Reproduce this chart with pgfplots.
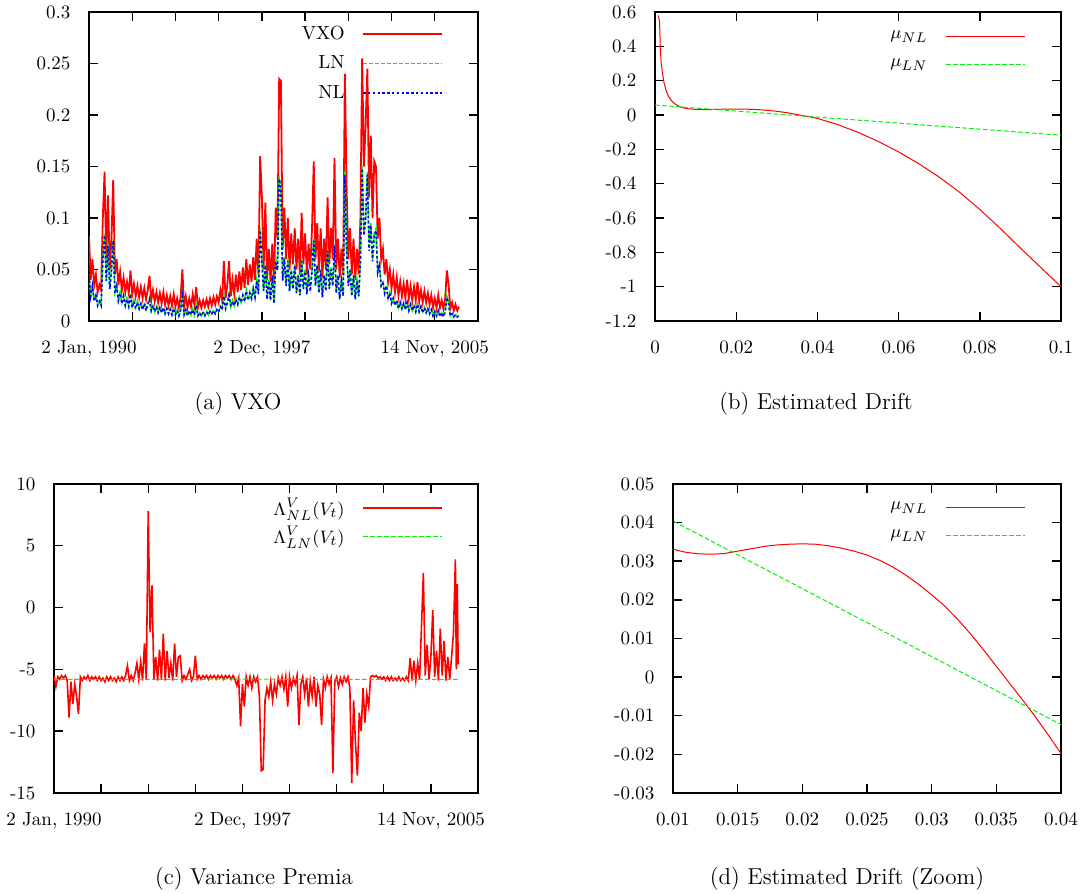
\documentclass[border=0pt]{standalone}
\usepackage{pgfplots}
\pgfplotsset{compat=1.18}
\usepackage{pgfplotstable}

\definecolor{gpred}{rgb}{1,0,0}
\definecolor{gpgreen}{rgb}{0,0.95,0}
\definecolor{gpblue}{rgb}{0,0,1}

\newcommand{\tickfont}{\fontsize{9.5}{11}\selectfont}
\newcommand{\capfont}{\fontsize{11.5}{14}\selectfont}

\pgfplotsset{
  gp/.style={
    scale only axis, anchor=south west,
    axis line style={line width=0.7pt},
    every tick/.style={black, line width=0.7pt},
    major tick length=4.5pt,
    tick align=inside,
    xtick pos=both, ytick pos=both,
    minor tick num=0,
    scaled ticks=false,
    tick label style={font=\tickfont},
    /pgf/number format/assume math mode=true,
    /pgf/number format/fixed,
    /pgf/number format/precision=3,
    xticklabel style={yshift=-6.2pt},
    yticklabel style={xshift=-5.8pt},
    legend cell align=right,
    legend plot pos=right,
    legend image code/.code={\draw[##1, line width=0.7pt] (0pt,0pt) -- (39.5pt,0pt);},
    legend style={draw=none, fill=none, at={(rel axis cs:1,1)}, anchor=north east,
      xshift=-17.5pt, inner sep=0pt, outer sep=0pt, column sep=9pt,
      font=\tickfont, nodes={inner sep=0pt}},
  },
  datex/.style={
    xmin=0, xmax=4500, xtick={0,500,...,4500},
    xticklabels={{2 Jan, 1990},{},{},{},{2 Dec, 1997},{},{},{},{14 Nov, 2005},{}},
  },
}

% daily index, VXO, LN, NL
\pgfplotstableread{
t v ln nl
0 0.082 0.045 0.044
20 0.040 0.025 0.024
40 0.060 0.035 0.034
60 0.035 0.020 0.019
80 0.045 0.025 0.025
100 0.028 0.016 0.015
120 0.035 0.020 0.019
140 0.030 0.015 0.015
160 0.100 0.060 0.058
180 0.145 0.085 0.083
200 0.060 0.040 0.039
220 0.122 0.075 0.073
240 0.050 0.032 0.031
260 0.080 0.050 0.049
280 0.137 0.080 0.078
300 0.045 0.028 0.027
320 0.060 0.035 0.034
340 0.035 0.020 0.020
360 0.048 0.028 0.027
380 0.030 0.018 0.017
400 0.042 0.025 0.024
420 0.028 0.015 0.015
440 0.038 0.022 0.021
460 0.027 0.015 0.014
480 0.049 0.027 0.026
500 0.026 0.014 0.013
520 0.036 0.020 0.019
540 0.024 0.013 0.012
560 0.034 0.019 0.018
580 0.023 0.012 0.012
600 0.033 0.018 0.017
620 0.022 0.011 0.011
640 0.032 0.017 0.017
660 0.021 0.011 0.010
680 0.030 0.016 0.016
700 0.044 0.022 0.021
720 0.020 0.010 0.010
740 0.030 0.015 0.015
760 0.019 0.009 0.009
780 0.028 0.014 0.014
800 0.018 0.009 0.008
820 0.027 0.014 0.013
840 0.017 0.008 0.008
860 0.028 0.013 0.013
880 0.016 0.008 0.007
900 0.025 0.012 0.012
920 0.015 0.007 0.007
940 0.024 0.012 0.011
960 0.015 0.007 0.006
980 0.026 0.012 0.012
1000 0.014 0.006 0.006
1020 0.022 0.011 0.010
1040 0.013 0.005 0.005
1060 0.023 0.011 0.011
1080 0.050 0.025 0.024
1100 0.014 0.006 0.006
1120 0.024 0.011 0.011
1140 0.013 0.005 0.005
1160 0.022 0.010 0.010
1180 0.014 0.006 0.006
1200 0.026 0.012 0.011
1220 0.015 0.006 0.006
1240 0.033 0.015 0.015
1260 0.013 0.005 0.005
1280 0.020 0.008 0.008
1300 0.013 0.005 0.005
1320 0.020 0.009 0.008
1340 0.014 0.006 0.005
1360 0.021 0.009 0.009
1380 0.014 0.006 0.006
1400 0.022 0.010 0.009
1420 0.015 0.007 0.007
1440 0.023 0.010 0.010
1460 0.016 0.008 0.007
1480 0.024 0.011 0.011
1500 0.018 0.009 0.009
1520 0.030 0.014 0.014
1540 0.020 0.012 0.011
1560 0.058 0.025 0.024
1580 0.022 0.013 0.012
1600 0.035 0.018 0.017
1620 0.058 0.026 0.025
1640 0.024 0.014 0.014
1660 0.040 0.020 0.019
1680 0.026 0.015 0.015
1700 0.045 0.022 0.021
1720 0.028 0.017 0.016
1740 0.048 0.023 0.023
1760 0.030 0.018 0.018
1780 0.052 0.025 0.025
1800 0.032 0.020 0.019
1820 0.060 0.030 0.029
1840 0.035 0.020 0.020
1860 0.055 0.028 0.027
1880 0.038 0.022 0.022
1900 0.062 0.032 0.031
1920 0.040 0.024 0.023
1940 0.080 0.040 0.039
1960 0.045 0.027 0.026
1980 0.160 0.090 0.088
2000 0.120 0.060 0.058
2020 0.050 0.030 0.029
2040 0.115 0.055 0.054
2060 0.040 0.022 0.021
2080 0.070 0.040 0.039
2100 0.038 0.020 0.020
2120 0.075 0.045 0.044
2140 0.035 0.018 0.017
2160 0.110 0.060 0.058
2180 0.080 0.050 0.049
2200 0.235 0.140 0.138
2220 0.233 0.130 0.128
2240 0.070 0.040 0.039
2260 0.110 0.062 0.060
2280 0.060 0.035 0.034
2300 0.100 0.060 0.058
2320 0.050 0.030 0.029
2340 0.085 0.050 0.049
2360 0.055 0.032 0.031
2380 0.090 0.055 0.054
2400 0.050 0.028 0.027
2420 0.080 0.045 0.044
2440 0.045 0.026 0.025
2460 0.105 0.060 0.058
2480 0.055 0.032 0.031
2500 0.085 0.050 0.048
2520 0.045 0.027 0.026
2540 0.075 0.045 0.044
2560 0.050 0.030 0.029
2580 0.090 0.050 0.049
2600 0.155 0.080 0.078
2620 0.060 0.035 0.034
2640 0.095 0.055 0.054
2660 0.048 0.028 0.027
2680 0.090 0.050 0.049
2700 0.042 0.024 0.023
2720 0.080 0.045 0.044
2740 0.050 0.030 0.029
2760 0.120 0.070 0.068
2780 0.055 0.032 0.031
2800 0.090 0.052 0.050
2820 0.060 0.035 0.034
2840 0.158 0.075 0.073
2860 0.050 0.028 0.027
2880 0.080 0.045 0.044
2900 0.042 0.022 0.021
2920 0.070 0.040 0.039
2940 0.045 0.025 0.024
2960 0.240 0.145 0.142
2980 0.130 0.070 0.068
3000 0.060 0.035 0.034
3020 0.090 0.050 0.049
3040 0.045 0.025 0.024
3060 0.080 0.045 0.044
3080 0.040 0.022 0.021
3100 0.070 0.040 0.039
3120 0.045 0.025 0.024
3140 0.100 0.060 0.058
3160 0.255 0.150 0.148
3180 0.150 0.085 0.083
3200 0.190 0.100 0.098
3220 0.245 0.145 0.142
3240 0.120 0.070 0.068
3260 0.180 0.095 0.093
3280 0.100 0.060 0.058
3300 0.155 0.085 0.083
3320 0.150 0.090 0.088
3340 0.080 0.048 0.047
3360 0.100 0.055 0.054
3380 0.060 0.035 0.034
3400 0.070 0.038 0.037
3420 0.045 0.028 0.027
3440 0.060 0.035 0.034
3460 0.038 0.022 0.021
3480 0.050 0.028 0.027
3500 0.032 0.018 0.017
3520 0.045 0.022 0.022
3540 0.028 0.015 0.015
3560 0.042 0.020 0.020
3580 0.025 0.013 0.012
3600 0.038 0.018 0.018
3620 0.024 0.012 0.012
3640 0.036 0.017 0.017
3660 0.022 0.011 0.011
3680 0.040 0.018 0.018
3700 0.022 0.011 0.010
3720 0.034 0.016 0.016
3740 0.020 0.010 0.010
3760 0.033 0.015 0.015
3780 0.020 0.010 0.009
3800 0.038 0.016 0.016
3820 0.019 0.009 0.009
3840 0.030 0.014 0.014
3860 0.018 0.009 0.008
3880 0.029 0.013 0.013
3900 0.018 0.008 0.008
3920 0.027 0.012 0.012
3940 0.016 0.008 0.007
3960 0.025 0.011 0.011
3980 0.013 0.005 0.005
4000 0.022 0.010 0.009
4020 0.013 0.005 0.005
4040 0.025 0.010 0.010
4060 0.013 0.005 0.004
4080 0.020 0.008 0.008
4100 0.012 0.005 0.004
4120 0.022 0.009 0.009
4140 0.049 0.024 0.023
4160 0.035 0.018 0.017
4180 0.012 0.005 0.005
4200 0.018 0.007 0.007
4220 0.010 0.004 0.004
4240 0.016 0.006 0.006
4260 0.010 0.004 0.004
4280 0.014 0.005 0.005
}\tabVXO

% variance premium, NL model
\pgfplotstableread{
t l
0 -5.5
20 -6.4
40 -5.6
60 -5.8
80 -5.5
100 -5.7
120 -5.5
140 -5.9
160 -8.9
180 -6.0
200 -7.8
220 -6.2
240 -7.2
260 -8.6
280 -5.6
300 -5.9
320 -5.6
340 -5.8
360 -5.5
380 -5.9
400 -5.6
420 -5.8
440 -5.6
460 -5.9
480 -5.6
500 -5.9
520 -5.7
540 -6.0
560 -5.6
580 -5.9
600 -5.6
620 -5.9
640 -5.7
660 -6.0
680 -5.6
700 -5.9
720 -5.6
740 -5.9
760 -5.5
780 -4.7
800 -5.9
820 -5.5
840 -5.9
860 -5.3
880 -4.5
900 -5.8
920 -4.4
940 -5.9
960 -2.9
980 -5.8
1000 7.8
1020 -2.0
1040 1.8
1060 -5.8
1080 -4.0
1100 -5.9
1120 -3.4
1140 -5.8
1160 -2.1
1180 -5.9
1200 -3.5
1220 -5.7
1240 -4.5
1260 -5.9
1280 -2.9
1300 -5.6
1320 -4.0
1340 -3.9
1360 -5.9
1380 -5.5
1400 -5.8
1420 -5.4
1440 -5.0
1460 -5.9
1480 -5.6
1500 -3.9
1520 -5.8
1540 -5.5
1560 -5.8
1580 -5.5
1600 -5.7
1620 -5.5
1640 -5.8
1660 -5.5
1680 -5.7
1700 -5.5
1720 -5.8
1740 -5.5
1760 -5.7
1780 -5.5
1800 -5.8
1820 -5.5
1840 -5.7
1860 -5.5
1880 -5.8
1900 -5.5
1920 -5.8
1940 -6.3
1960 -5.7
1980 -9.6
2000 -6.2
2020 -8.0
2040 -5.6
2060 -6.3
2080 -5.6
2100 -6.5
2120 -5.6
2140 -6.0
2160 -5.6
2180 -7.2
2200 -13.2
2220 -13.1
2240 -7.5
2260 -6.5
2280 -7.2
2300 -6.0
2320 -7.5
2340 -6.2
2360 -7.0
2380 -5.7
2400 -6.3
2420 -5.6
2440 -6.6
2460 -5.6
2480 -8.0
2500 -5.6
2520 -6.5
2540 -5.7
2560 -6.2
2580 -5.5
2600 -9.5
2620 -6.2
2640 -5.6
2660 -7.0
2680 -5.7
2700 -8.0
2720 -6.0
2740 -7.2
2760 -5.6
2780 -8.0
2800 -6.3
2820 -7.0
2840 -9.5
2860 -5.8
2880 -6.5
2900 -5.6
2920 -6.2
2940 -5.7
2960 -13.4
2980 -6.0
3000 -5.6
3020 -6.4
3040 -5.7
3060 -6.2
3080 -5.6
3100 -6.0
3120 -5.6
3140 -6.5
3160 -14.2
3180 -7.5
3200 -11.0
3220 -13.6
3240 -8.5
3260 -10.0
3280 -6.5
3300 -9.3
3320 -7.0
3340 -8.0
3360 -5.6
3380 -5.5
3400 -5.6
3420 -5.5
3440 -5.7
3460 -5.6
3480 -5.8
3500 -5.6
3520 -5.9
3540 -5.6
3560 -5.9
3580 -5.6
3600 -5.9
3620 -5.7
3640 -5.9
3660 -5.6
3680 -5.9
3700 -5.7
3720 -5.9
3740 -5.6
3760 -5.9
3780 -4.1
3800 -5.9
3820 -4.3
3840 -5.9
3860 -4.5
3880 -5.8
3900 -1.6
3920 2.8
3940 -5.5
3960 -3.0
3980 -5.8
4000 -4.0
4020 -0.2
4040 -5.6
4060 -3.5
4080 -5.9
4100 -1.7
4120 -5.5
4140 -2.7
4160 -5.9
4180 -4.0
4200 -5.8
4220 -4.0
4240 -2.0
4260 3.9
4270 -5.0
4280 1.9
4290 -4.6
}\tabLamNL

\pgfplotstableread{
t l
0 -5.80
500 -5.80
1000 -5.81
1500 -5.80
2000 -5.79
2500 -5.80
3000 -5.80
3500 -5.81
4000 -5.80
4290 -5.80
}\tabLamLN

% estimated drift mu_NL
\pgfplotstableread{
x y
0.0008 0.58
0.0011 0.55
0.0013 0.40
0.0015 0.31
0.0018 0.25
0.0022 0.19
0.0027 0.145
0.0033 0.11
0.004 0.085
0.005 0.063
0.006 0.050
0.007 0.042
0.008 0.037
0.009 0.034
0.010 0.0331
0.011 0.0323
0.012 0.0319
0.013 0.0318
0.014 0.0320
0.015 0.0326
0.016 0.0332
0.017 0.0338
0.018 0.0342
0.019 0.0344
0.020 0.0345
0.021 0.0344
0.022 0.0340
0.023 0.0334
0.024 0.0326
0.025 0.0316
0.026 0.0302
0.027 0.0285
0.028 0.0264
0.029 0.0240
0.030 0.0213
0.031 0.0184
0.032 0.0150
0.033 0.0112
0.034 0.0071
0.035 0.0028
0.036 -0.0015
0.037 -0.0058
0.038 -0.0102
0.039 -0.0149
0.040 -0.0198
0.045 -0.056
0.050 -0.101
0.055 -0.154
0.060 -0.215
0.065 -0.284
0.070 -0.362
0.075 -0.450
0.080 -0.550
0.085 -0.660
0.090 -0.775
0.095 -0.888
0.100 -1.000
}\tabMuNL

% estimated drift mu_LN
\pgfplotstableread{
x y
0.00 0.0580
0.01 0.0404
0.02 0.0229
0.03 0.0053
0.04 -0.0123
0.05 -0.0298
0.06 -0.0474
0.07 -0.0650
0.08 -0.0825
0.09 -0.1001
0.10 -0.1177
}\tabMuLN

\begin{document}
\begin{tikzpicture}
\path[use as bounding box] (0,0) rectangle (541.5pt,447pt);

% (a) VXO
\begin{axis}[gp, datex, at={(44.5pt,286.5pt)}, width=194.5pt, height=154.5pt,
  ymin=0, ymax=0.3, ytick={0,0.05,0.1,0.15,0.2,0.25,0.3},
  legend style={yshift=-7pt, row sep=6.7pt}]
\addplot[gpred, line width=0.9pt] table[x=t, y=v] {\tabVXO};
\addlegendentry{VXO}
\addplot[gpgreen, line width=0.8pt, dash pattern=on 2pt off 1pt] table[x=t, y=ln] {\tabVXO};
\addlegendentry{LN}
\addplot[gpblue, line width=0.8pt, dash pattern=on 1.2pt off 1.2pt] table[x=t, y=nl] {\tabVXO};
\addlegendentry{NL}
\end{axis}

% (b) estimated drift
\begin{axis}[gp, at={(327.5pt,286.5pt)}, width=203pt, height=154.5pt,
  xmin=0, xmax=0.1, xtick={0,0.02,0.04,0.06,0.08,0.1},
  ymin=-1.2, ymax=0.6, ytick={-1.2,-1,-0.8,-0.6,-0.4,-0.2,0,0.2,0.4,0.6},
  legend style={yshift=-9.5pt, row sep=8.6pt}]
\addplot[gpred, line width=0.5pt] table[x=x, y=y] {\tabMuNL};
\addlegendentry{$\mu_{NL}$}
\addplot[gpgreen, line width=0.5pt, dash pattern=on 2.3pt off 1.2pt] table[x=x, y=y] {\tabMuLN};
\addlegendentry{$\mu_{LN}$}
\end{axis}

% (c) variance premia
\begin{axis}[gp, datex, at={(27pt,50.5pt)}, width=212pt, height=154.5pt,
  ymin=-15, ymax=10, ytick={-15,-10,-5,0,5,10},
  legend style={yshift=-7pt, row sep=4pt}]
\addplot[gpred, line width=0.8pt] table[x=t, y=l] {\tabLamNL};
\addlegendentry{$\Lambda^V_{NL}(V_t)$}
\addplot[gpgreen, line width=0.5pt, dash pattern=on 2.3pt off 1.2pt] table[x=t, y=l] {\tabLamLN};
\addlegendentry{$\Lambda^V_{LN}(V_t)$}
\end{axis}

% (d) estimated drift, zoom
\begin{axis}[gp, at={(336.5pt,50.5pt)}, width=194pt, height=154.5pt,
  xmin=0.01, xmax=0.04, xtick={0.01,0.015,0.02,0.025,0.03,0.035,0.04},
  ymin=-0.03, ymax=0.05, ytick={-0.03,-0.02,-0.01,0,0.01,0.02,0.03,0.04,0.05},
  legend style={yshift=-9pt, row sep=8.6pt}]
\addplot[gpred, line width=0.5pt] table[x=x, y=y] {\tabMuNL};
\addlegendentry{$\mu_{NL}$}
\addplot[gpgreen, line width=0.5pt, dash pattern=on 2.3pt off 1.2pt] table[x=x, y=y] {\tabMuLN};
\addlegendentry{$\mu_{LN}$}
\end{axis}

\node[anchor=base, font=\capfont] at (119pt,242pt) {(a) VXO};
\node[anchor=base, font=\capfont] at (408pt,242pt) {(b) Estimated Drift};
\node[anchor=base, font=\capfont] at (127pt,4.5pt) {(c) Variance Premia};
\node[anchor=base, font=\capfont] at (423.5pt,4.5pt) {(d) Estimated Drift (Zoom)};
\end{tikzpicture}
\end{document}
